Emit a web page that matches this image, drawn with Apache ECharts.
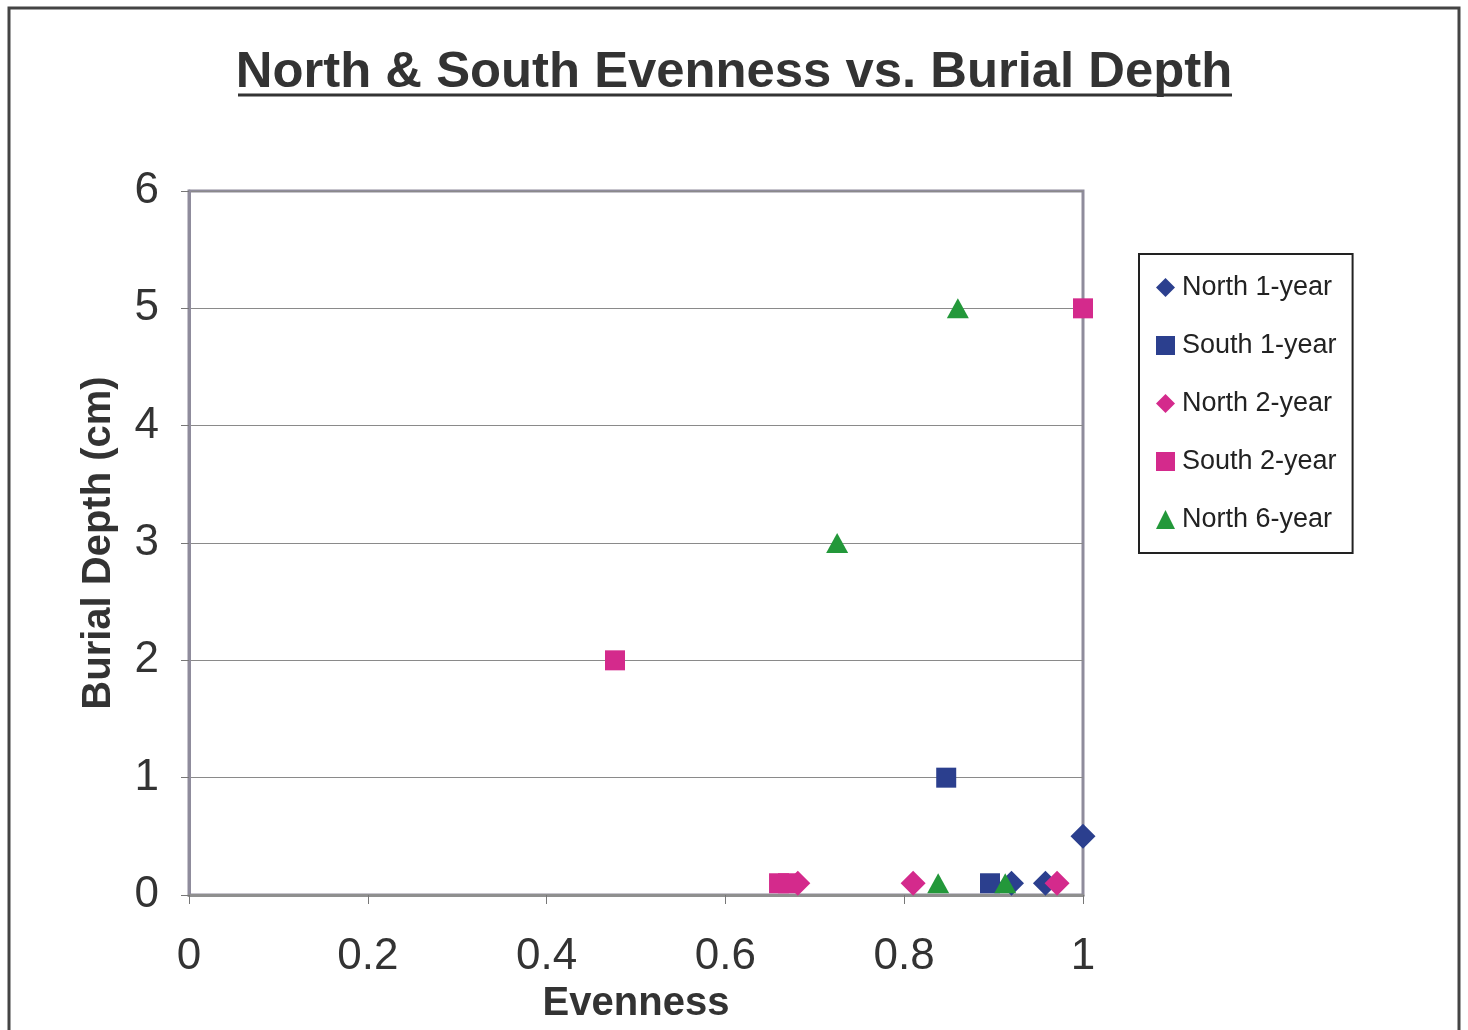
<!DOCTYPE html>
<html><head><meta charset="utf-8">
<script src="https://cdn.jsdelivr.net/npm/echarts@6/dist/echarts.min.js"></script>
<style>html,body{margin:0;padding:0;background:#fff}#c{width:1468px;height:1030px}</style>
</head><body><div id="c"></div>
<script>
const titleText = 'North & South Evenness vs. Burial Depth';
const xName = 'Evenness';
const yName = 'Burial Depth (cm)';
const seriesNames = ['North 1-year','South 1-year','North 2-year','South 2-year','North 6-year'];
const north1 = [[1.0,0.5],[0.92,0.1],[0.958,0.1]];
const south1 = [[0.847,1.0],[0.896,0.1]];
const north2 = [[0.681,0.1],[0.81,0.1],[0.971,0.1]];
const south2 = [[0.4765,2.0],[1.0,5.0],[0.66,0.1],[0.67,0.1]];
const north6 = [[0.725,3.0],[0.86,5.0],[0.838,0.1],[0.913,0.1]];

const navy = '#2b3f8e', pink = '#d42a8c', green = '#23983a';
const FONT = 'Liberation Sans, Arial, sans-serif';
const chart = echarts.init(document.getElementById('c'), null, {renderer:'canvas'});
const L = 189, R = 1083, T = 191, B = 895;
function sc(name, data, symbol, size, color){
  return {name, type:'scatter', data, symbol, symbolSize:size,
    itemStyle:{color, opacity:1}, z: 3};
}
chart.setOption({
  backgroundColor:'#fff',
  animation:false,
  textStyle:{fontFamily:FONT},
  title:{text:titleText, left:'center', top:42,
    textStyle:{fontFamily:FONT, fontSize:50.8, fontWeight:'bold', color:'#333'}},
  grid:{left:L, right:1468-R, top:T, bottom:1030-B, show:true, borderColor:'#8f8c9c', borderWidth:3},
  xAxis:{type:'value', min:0, max:1, interval:0.2,
    name:xName, nameLocation:'middle', nameGap:88,
    nameTextStyle:{fontFamily:FONT, fontSize:40, fontWeight:'bold', color:'#333'},
    axisLine:{show:true, lineStyle:{color:'#8f8f8f', width:3}},
    axisTick:{show:true, inside:false, length:9, lineStyle:{color:'#777', width:1}},
    axisLabel:{fontFamily:FONT, fontSize:44, color:'#333', margin:40},
    splitLine:{show:false}},
  yAxis:{type:'value', min:0, max:6, interval:1,
    name:yName, nameLocation:'middle', nameGap:70,
    nameTextStyle:{fontFamily:FONT, fontSize:40, fontWeight:'bold', color:'#333'},
    axisLine:{show:true, lineStyle:{color:'#8f8c9c', width:3}},
    axisTick:{show:true, inside:false, length:8, lineStyle:{color:'#777', width:1}},
    axisLabel:{fontFamily:FONT, fontSize:44, color:'#333', margin:30},
    splitLine:{show:true, lineStyle:{color:'#8a8a8a', width:1}}},
  legend:{orient:'vertical', left:1139, top:254,
    data:seriesNames,
    backgroundColor:'#fff', borderColor:'#222', borderWidth:2,
    padding:[20,16,20,17], itemGap:31, itemWidth:19, itemHeight:19,
    textStyle:{fontFamily:FONT, fontSize:27, color:'#222', padding:[0,0,0,2]}},
  graphic:[
    {type:'rect', shape:{x:9, y:8, width:1450, height:1030}, style:{fill:'none', stroke:'#444', lineWidth:3}, silent:true},
    {type:'line', shape:{x1:238, y1:95, x2:1232, y2:95}, style:{stroke:'#333', lineWidth:3}, silent:true}
  ],
  series:[
    sc(seriesNames[0], north1, 'diamond', [25,25], navy),
    sc(seriesNames[1], south1, 'rect', [20,20], navy),
    sc(seriesNames[2], north2, 'diamond', [25,25], pink),
    sc(seriesNames[3], south2, 'rect', [20,20], pink),
    sc(seriesNames[4], north6, 'triangle', [22,20], green)
  ]
});
</script></body></html>
